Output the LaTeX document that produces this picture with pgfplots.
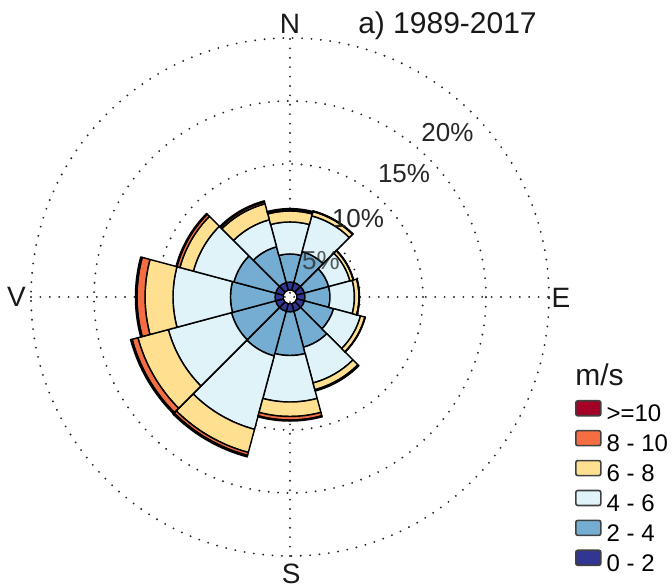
\documentclass[border=0pt]{standalone}
\usepackage{pgfplots}
\pgfplotsset{compat=1.18}
\usepackage{pgfplotstable}
\usepackage{fontspec}
\setmainfont{Liberation Sans}

\definecolor{cA}{HTML}{313695}
\definecolor{cB}{HTML}{74ADD1}
\definecolor{cC}{HTML}{E0F3F8}
\definecolor{cD}{HTML}{FEE090}
\definecolor{cE}{HTML}{F46D43}
\definecolor{cF}{HTML}{A50026}

\pgfdeclareplotmark{void}{}

% cumulative frequency (%) per direction, speed classes 0-2 ... >=10
\pgfplotstableread{
ang c0 c1   c2   c3    c4    c5    c6
0   0  0.63 2.86 5.40  6.27  6.40  6.46
30  0  0.63 3.17 6.11  6.47  6.50  6.52
60  0  0.63 2.62 4.37  4.64  4.66  4.67
90  0  0.63 2.62 4.56  4.92  4.94  4.96
120 0  0.63 3.02 5.24  5.60  5.62  5.63
150 0  0.63 3.57 6.51  7.06  7.13  7.17
180 0  0.63 4.09 7.78  8.93  9.21  9.29
210 0  0.63 4.29 10.32 12.22 12.46 12.58
240 0  0.63 4.25 9.44  11.94 12.42 12.54
270 0  0.63 4.17 8.73  10.95 11.59 11.71
300 0  0.63 4.05 7.38  8.49  8.73  8.81
330 0  0.63 3.57 5.79  7.10  7.26  7.34
}\rose

\pgfplotsset{
  band/.style n args={3}{
    only marks, mark=void, scatter, point meta=explicit,
    fill=#3, draw=black,
    visualization depends on={\thisrow{ang}\as\ang},
    visualization depends on={\thisrow{#1}\as\lo},
    visualization depends on={\thisrow{#2}\as\hi},
    scatter/@pre marker code/.code={%
      \pgfmathsetmacro\aS{75-\ang}%
      \pgfmathsetmacro\aE{105-\ang}%
      \pgfmathsetmacro\rL{(\lo+0.5556)*6.3}%
      \pgfmathsetmacro\rH{(\hi+0.5556)*6.3}%
      \filldraw[fill=#3,draw=black,line width=0.72pt,line join=round]
        (\aS:\rL pt) -- (\aS:\rH pt)
        arc[start angle=\aS,end angle=\aE,radius=\rH pt]
        -- (\aE:\rL pt)
        arc[start angle=\aE,end angle=\aS,radius=\rL pt] -- cycle;
    },
    scatter/@post marker code/.code={},
    legend image code/.code={%
      \filldraw[fill=#3,draw=black!75,line width=0.8pt,rounded corners=1pt]
        (0pt,0.55pt) rectangle (12.5pt,8.05pt);},
  },
}
\tikzset{gridline/.style={line width=1.05pt, line cap=round, dash pattern=on 0pt off 4.7pt, black!85}}

\begin{document}
\begin{tikzpicture}[every node/.style={inner sep=0pt}]
\begin{axis}[
  x=6.3pt, y=6.3pt,
  xmin=-23.016, xmax=30.317,
  ymin=-23.016, ymax=23.571,
  hide axis, clip=false,
  legend style={at={(axis cs:22.62,-8.175)}, anchor=north west,
    draw=none, fill=none, inner sep=0pt, outer sep=0pt, row sep=0pt,
    font=\fontsize{12}{13}\selectfont,
    nodes={inner sep=0pt, text height=9pt, text depth=4pt},
    /tikz/every odd column/.append style={column sep=2.5pt}},
  legend cell align=left,
  reverse legend,
]
\coordinate (bl) at (axis cs:-23.016,-23.016);
\coordinate (tr) at (axis cs:30.317,23.571);
\coordinate (p5) at (axis cs:2.46,2.86);
\coordinate (p10) at (axis cs:5.40,6.19);
\coordinate (p15) at (axis cs:9.05,9.76);
\coordinate (p20) at (axis cs:12.5,13.06);

% dotted grid
\draw[gridline] (axis cs:0,0) circle[radius=35pt];
\draw[gridline] (axis cs:0,0) circle[radius=66.5pt];
\draw[gridline] (axis cs:0,0) circle[radius=98pt];
\draw[gridline] (axis cs:0,0) circle[radius=129.5pt];
\draw[gridline] (axis cs:0,-20.5556) -- (axis cs:0,20.5556);
\draw[gridline] (axis cs:-20.5556,0) -- (axis cs:20.5556,0);

\addplot[band={c0}{c1}{cA}] table[x expr=0,y expr=0,meta=ang]{\rose};
\addlegendentry{0 - 2}
\addplot[band={c1}{c2}{cB}] table[x expr=0,y expr=0,meta=ang]{\rose};
\addlegendentry{2 - 4}
\addplot[band={c2}{c3}{cC}] table[x expr=0,y expr=0,meta=ang]{\rose};
\addlegendentry{4 - 6}
\addplot[band={c3}{c4}{cD}] table[x expr=0,y expr=0,meta=ang]{\rose};
\addlegendentry{6 - 8}
\addplot[band={c4}{c5}{cE}] table[x expr=0,y expr=0,meta=ang]{\rose};
\addlegendentry{8 - 10}
\addplot[band={c5}{c6}{cF}] table[x expr=0,y expr=0,meta=ang]{\rose};
\addlegendentry{>=10}

% compass labels and title
\node[anchor=base, font=\fontsize{14}{16}\selectfont, text=black!90] at (axis cs:0,20.93) {N};
\node[anchor=base, font=\fontsize{14}{16}\selectfont, text=black!90] at (axis cs:0.1,-22.7) {S};
\node[anchor=base, font=\fontsize{14}{16}\selectfont, text=black!90] at (axis cs:21.5,-0.87) {E};
\node[anchor=base, font=\fontsize{14}{16}\selectfont, text=black!90] at (axis cs:-21.71,-0.79) {V};
\node[anchor=base, font=\fontsize{15}{17}\selectfont, text=black!90] at (axis cs:12.5,20.93) {a) 1989-2017};
\node[anchor=base west, font=\fontsize{15}{17}\selectfont, text=black!90] at (axis cs:22.62,-7.06) {m/s};
\end{axis}
% frequency labels, drawn over the bars
\begin{scope}[font=\fontsize{13}{15}\selectfont, text=black!85]
  \node[text opacity=0.75] at (p5) {5\%};
  \node at (p10) {10\%};
  \node at (p15) {15\%};
  \node at (p20) {20\%};
\end{scope}
\pgfresetboundingbox
\path[use as bounding box] (bl) rectangle (tr);
\end{tikzpicture}
\end{document}
